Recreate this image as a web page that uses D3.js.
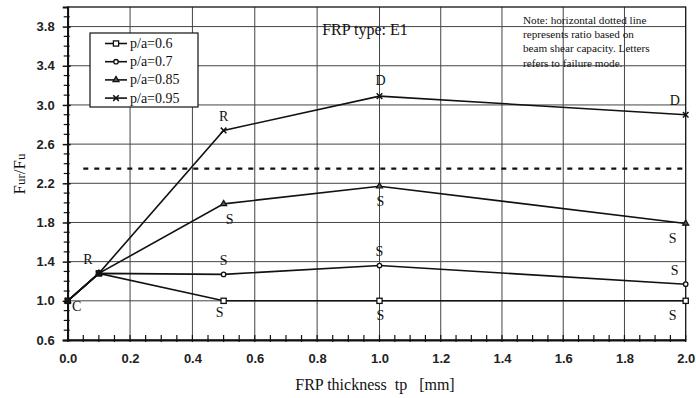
<!DOCTYPE html>
<html>
<head>
<meta charset="utf-8">
<script src="https://cdn.jsdelivr.net/npm/d3@7"></script>
<style>
  html, body { margin: 0; padding: 0; background: #fff; }
  svg { display: block; }
</style>
</head>
<body>
<svg id="chart" width="696" height="398"></svg>
<script>
// FRP thickness (mm) at which each beam was tested
const thickness = [0, 0.1, 0.5, 1.0, 2.0];

// Strength ratio Fur/Fu for each shear span ratio p/a
const seriesNames = ["p/a=0.6", "p/a=0.7", "p/a=0.85", "p/a=0.95"];
const ratio06  = [1.0, 1.28, 1.0, 1.0, 1.0];
const ratio07  = [1.0, 1.28, 1.27, 1.36, 1.17];
const ratio085 = [1.0, 1.28, 1.99, 2.17, 1.79];
const ratio095 = [1.0, 1.28, 2.74, 3.09, 2.90];
const seriesMarkers = ["square", "circle", "triangle", "times"];

// Ratio based on beam shear capacity
const shearCapacityRatio = 2.35;
const shearLineSpan = [0.05, 2.0];

// Failure mode letters: [letter, thickness, ratio at the point, placement]
const failureModes = [
  ["C", 0.0, 1.0, "belowRight"],
  ["R", 0.1, 1.28, "aboveLeft"],
  ["R", 0.5, 2.74, "above"],
  ["S", 0.5, 1.99, "belowRight2"],
  ["S", 0.5, 1.27, "above"],
  ["S", 0.5, 1.0, "belowLeft2"],
  ["D", 1.0, 3.09, "aboveHigh"],
  ["S", 1.0, 2.17, "below"],
  ["S", 1.0, 1.36, "above"],
  ["S", 1.0, 1.0, "below"],
  ["D", 2.0, 2.90, "aboveLeft"],
  ["S", 2.0, 1.79, "belowLeft"],
  ["S", 2.0, 1.17, "aboveLeft"],
  ["S", 2.0, 1.0, "belowLeft"]
];

// Axis ticks
const xTicks = [0, 0.2, 0.4, 0.6, 0.8, 1.0, 1.2, 1.4, 1.6, 1.8, 2.0];
const yTicks = [0.6, 1.0, 1.4, 1.8, 2.2, 2.6, 3.0, 3.4, 3.8];

const noteLines = [
  "Note: horizontal dotted line",
  "represents ratio based on",
  "beam shear capacity. Letters",
  "refers to failure mode."
];

const svg = d3.select("#chart");
const serif = "'Liberation Serif', 'Times New Roman', serif";
const sans = "'Liberation Sans', Arial, sans-serif";

const x = d3.scaleLinear().domain([0, 1, 2]).range([67.7, 379.5, 685.7]);
const y = d3.scaleLinear().domain([0.6, 4.0]).range([340, 7]);

const allSeries = [ratio06, ratio07, ratio085, ratio095].map((vals, i) => ({
  name: seriesNames[i],
  marker: seriesMarkers[i],
  points: thickness.map((t, j) => [t, vals[j]])
}));

// Grid
const grid = svg.append("g").attr("stroke", "#444").attr("stroke-width", 1);
grid.selectAll("line.h").data(yTicks.filter(v => v > 0.6)).join("line")
  .attr("x1", x(0)).attr("x2", x(2))
  .attr("y1", d => y(d)).attr("y2", d => y(d));
grid.selectAll("line.v").data(xTicks.filter(v => v > 0 && v < 2)).join("line")
  .attr("y1", y(0.6)).attr("y2", y(4.0))
  .attr("x1", d => x(d)).attr("x2", d => x(d));

// Frame
svg.append("rect")
  .attr("x", x(0)).attr("y", y(4.0))
  .attr("width", x(2) - x(0)).attr("height", y(0.6) - y(4.0))
  .attr("fill", "none").attr("stroke", "#111").attr("stroke-width", 1.3);

// Y axis with minor ticks every 0.1
const yAxis = d3.axisLeft(y).tickValues(yTicks).tickFormat(d3.format(".1f")).tickSize(5).tickPadding(8);
const yAx = svg.append("g").attr("transform", `translate(${x(0)},0)`).call(yAxis);
yAx.select(".domain").attr("stroke", "#111").attr("stroke-width", 1.8);
yAx.selectAll(".tick line").attr("stroke", "#111").attr("stroke-width", 1.5).attr("x2", -5).attr("x1", 3);
yAx.selectAll(".tick text").attr("font-family", sans).attr("font-size", 13).attr("font-weight", "bold").attr("fill", "#222");
const yMinor = d3.range(0.7, 4.0, 0.1).filter(v => !yTicks.some(t => Math.abs(t - v) < 1e-6));
svg.append("g").selectAll("line").data(yMinor).join("line")
  .attr("x1", x(0) - 4).attr("x2", x(0) + 2)
  .attr("y1", d => y(d)).attr("y2", d => y(d))
  .attr("stroke", "#111").attr("stroke-width", 1.2);

// X axis with minor ticks every 0.05
const xAxis = d3.axisBottom(x).tickValues(xTicks).tickFormat(d3.format(".1f")).tickSize(0).tickPadding(14);
const xAx = svg.append("g").attr("transform", `translate(0,${y(0.6)})`).call(xAxis);
xAx.select(".domain").attr("stroke", "#111").attr("stroke-width", 1.8);
xAx.selectAll(".tick text").attr("font-family", sans).attr("font-size", 13).attr("font-weight", "bold").attr("fill", "#222");
const xMinor = d3.range(0, 2.0001, 0.05);
svg.append("g").selectAll("line").data(xMinor).join("line")
  .attr("x1", d => x(d)).attr("x2", d => x(d))
  .attr("y1", y(0.6) - 5).attr("y2", y(0.6) + 2)
  .attr("stroke", "#111").attr("stroke-width", 1.2);

// Shear capacity reference line
svg.append("line")
  .attr("x1", x(shearLineSpan[0])).attr("x2", x(shearLineSpan[1]))
  .attr("y1", y(shearCapacityRatio)).attr("y2", y(shearCapacityRatio))
  .attr("stroke", "#111").attr("stroke-width", 2.2).attr("stroke-dasharray", "5,6");

// Series lines
const line = d3.line().x(d => x(d[0])).y(d => y(d[1]));
svg.append("g").selectAll("path").data(allSeries).join("path")
  .attr("d", d => line(d.points))
  .attr("fill", "none").attr("stroke", "#111").attr("stroke-width", 1.6);

// Markers
function drawMarker(g, type, cx, cy) {
  if (type === "square") {
    g.append("rect").attr("x", cx - 2.6).attr("y", cy - 2.6).attr("width", 5.2).attr("height", 5.2)
      .attr("fill", "#fff").attr("stroke", "#111").attr("stroke-width", 1.3);
  } else if (type === "circle") {
    g.append("circle").attr("cx", cx).attr("cy", cy).attr("r", 2.2)
      .attr("fill", "#fff").attr("stroke", "#111").attr("stroke-width", 1.3);
  } else if (type === "triangle") {
    g.append("path").attr("d", d3.symbol().type(d3.symbolTriangle).size(16)())
      .attr("transform", `translate(${cx},${cy})`)
      .attr("fill", "#555").attr("stroke", "#111").attr("stroke-width", 1.2);
  } else {
    const sym = d3.symbolTimes || d3.symbolCross;
    g.append("path").attr("d", d3.symbol().type(sym).size(22)())
      .attr("transform", `translate(${cx},${cy})` + (d3.symbolTimes ? "" : " rotate(45)"))
      .attr("fill", "none").attr("stroke", "#111").attr("stroke-width", 1.5);
  }
}
const markers = svg.append("g");
allSeries.forEach(s => s.points.forEach(p => drawMarker(markers, s.marker, x(p[0]), y(p[1]))));

// Failure mode letters
const placement = {
  above: [0, -14], aboveHigh: [1, -16], below: [1, 15],
  aboveLeft: [-11, -14], belowLeft: [-13, 15], belowLeft2: [-4, 12],
  belowRight: [9, 6], belowRight2: [6, 16]
};
svg.append("g").selectAll("text").data(failureModes).join("text")
  .attr("x", d => x(d[1]) + placement[d[3]][0])
  .attr("y", d => y(d[2]) + placement[d[3]][1])
  .attr("text-anchor", "middle").attr("dominant-baseline", "central")
  .attr("font-family", serif).attr("font-size", 14).attr("fill", "#111")
  .text(d => d[0]);

// Title
svg.append("text").attr("x", 365).attr("y", 35).attr("text-anchor", "middle")
  .attr("font-family", serif).attr("font-size", 16).attr("fill", "#111")
  .text("FRP type: E1");

// Note
svg.append("g").selectAll("text").data(noteLines).join("text")
  .attr("x", 523).attr("y", (d, i) => 24 + i * 14.2)
  .attr("font-family", serif).attr("font-size", 11.2).attr("fill", "#111")
  .text(d => d);

// Legend
const legend = svg.append("g");
legend.append("rect").attr("x", 90).attr("y", 33).attr("width", 108).attr("height", 74)
  .attr("fill", "#fff").attr("stroke", "#111").attr("stroke-width", 1.2);
allSeries.forEach((s, i) => {
  const ly = 43.5 + i * 18.2;
  legend.append("line").attr("x1", 105).attr("x2", 127).attr("y1", ly).attr("y2", ly)
    .attr("stroke", "#111").attr("stroke-width", 1.6);
  drawMarker(legend, s.marker, 116, ly);
  legend.append("text").attr("x", 130).attr("y", ly).attr("dominant-baseline", "central")
    .attr("font-family", serif).attr("font-size", 14).attr("fill", "#111")
    .text(s.name);
});

// Axis titles
svg.append("text").attr("x", 375).attr("y", 390).attr("text-anchor", "middle")
  .attr("font-family", serif).attr("font-size", 16).attr("fill", "#111")
  .text("FRP thickness\u00a0\u00a0tp\u00a0\u00a0\u00a0[mm]");

const yl = svg.append("text").attr("transform", "translate(25,174) rotate(-90)")
  .attr("text-anchor", "middle").attr("font-family", serif).attr("font-size", 17).attr("fill", "#111");
yl.append("tspan").text("F");
yl.append("tspan").attr("font-size", 13).text("ur");
yl.append("tspan").text("/F");
yl.append("tspan").attr("font-size", 13).text("u");
</script>
</body>
</html>
